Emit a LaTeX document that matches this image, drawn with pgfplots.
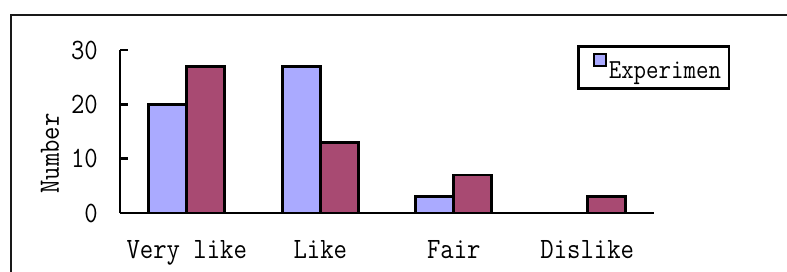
\documentclass[border=0pt]{standalone}
\usepackage{pgfplots}
\usepackage{pgfplotstable}
\pgfplotsset{compat=1.18}
\usepackage{fontspec}
\setmonofont{Latin Modern Mono}[FakeStretch=0.88]
\definecolor{expblue}{RGB}{170,170,255}
\definecolor{ctrlred}{RGB}{168,74,114}
\pgfplotstableread{
x exp ctrl
0 20 27
1 27 13
2 3  7
3 0  3
}\datatab
\begin{document}
\begin{tikzpicture}[x=1pt,y=1pt]
\useasboundingbox (0,0) rectangle (787,271);
\clip (0,0) rectangle (787,271);
\draw[line width=2.8pt, black!90] (11,256) rectangle (830,-40);
\begin{axis}[
  at={(120pt,58pt)}, anchor=south west,
  scale only axis, width=534pt, height=163pt,
  xmin=-0.5, xmax=3.5, ymin=0, ymax=30,
  axis x line=bottom, axis y line=left,
  axis line style={-, line width=2.8pt},
  ybar=0pt, bar width=38pt,
  xtick={0,1,2,3},
  xticklabels={Very like,Like,Fair,Dislike},
  xtick style={draw=none},
  minor xtick={-0.5,0.5,1.5,2.5,3.5},
  minor tick length=7pt,
  minor x tick style={line width=2.8pt, black},
  ytick={0,10,20,30},
  major tick length=8pt,
  ytick style={line width=2.8pt, black},
  tick align=inside,
  /pgf/number format/assume math mode=true,
  tick label style={font=\ttfamily\fontsize{29.5}{34}\selectfont},
  xticklabel style={anchor=base, inner sep=0pt, yshift=-45pt},
  yticklabel style={anchor=east, inner sep=0pt, xshift=-22pt},
  ylabel={Number},
  ylabel style={font=\ttfamily\fontsize{29.5}{34}\selectfont, at={(axis description cs:-0.131,0.365)}, anchor=center},
  legend style={at={(axis description cs:0.856,1.031)}, anchor=north west,
    draw=black, line width=2.6pt, font=\ttfamily\fontsize{27.5}{32}\selectfont,
    inner xsep=6pt, inner ysep=7pt},
  legend image code/.code={\path (-8pt,0pt); \draw[#1, line width=2.2pt] (0pt,4pt) rectangle (12pt,16pt);},
  legend cell align=left,
  clip=false,
]
\addplot[fill=expblue, draw=black, line width=2.6pt] table[x=x, y=exp] {\datatab};
\addlegendentry{Experimen}
\addplot[fill=ctrlred, draw=black, line width=2.6pt] table[x=x, y=ctrl] {\datatab};
\end{axis}
\end{tikzpicture}
\end{document}
